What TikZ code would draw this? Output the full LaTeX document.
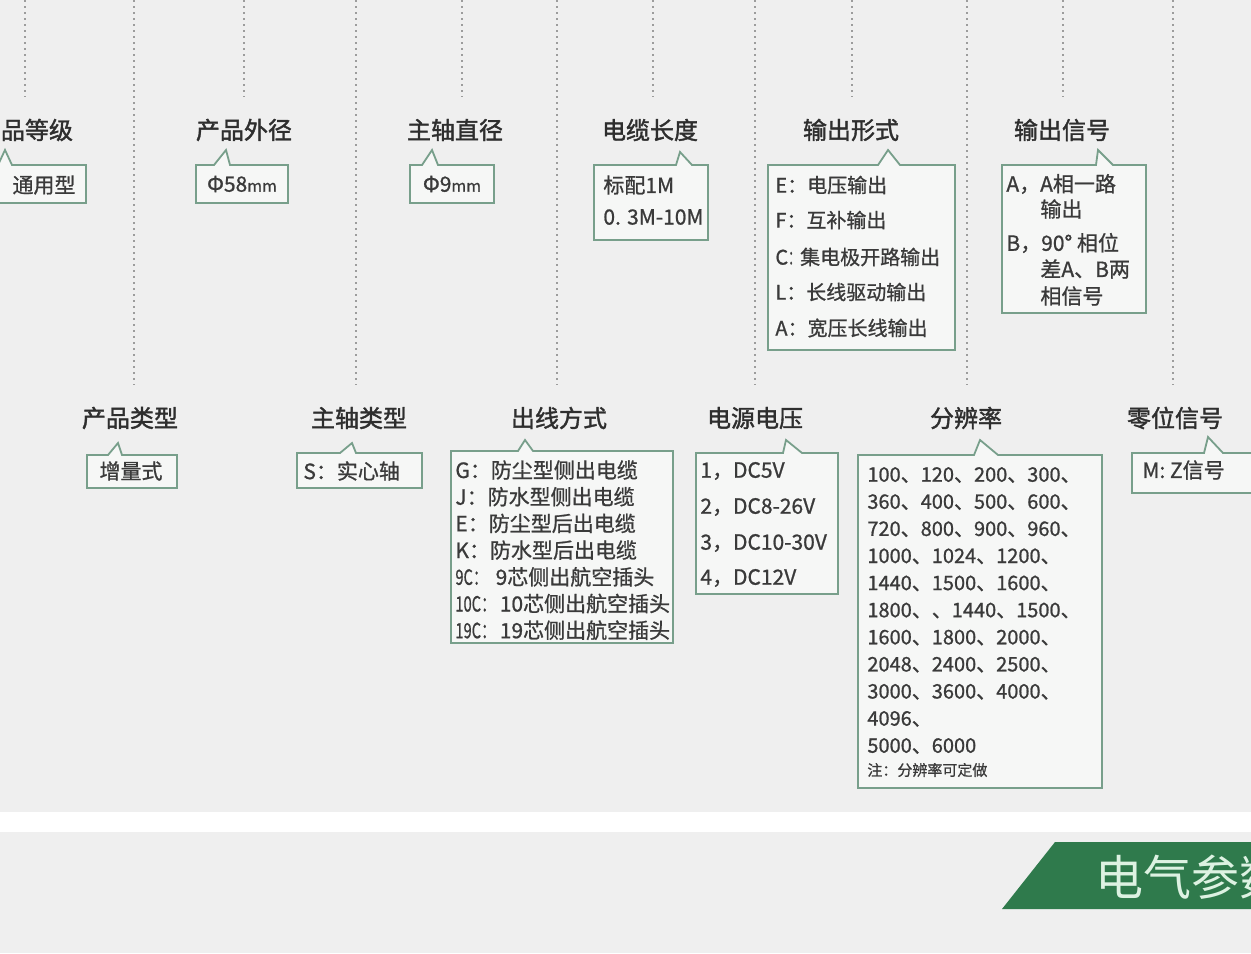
\documentclass[tikz,border=0pt]{standalone}
\usepackage{fontspec}
\setmainfont{Noto Sans CJK SC}
\newfontfamily\tfont[FakeBold=1.6]{Noto Sans CJK SC}
\newfontfamily\bxfont[FakeBold=0.9]{Noto Sans CJK SC}
\usepackage{graphicx}
\definecolor{bgc}{HTML}{EFEFEF}
\definecolor{boxfill}{HTML}{F6F7F6}
\definecolor{boxline}{HTML}{789F8B}
\definecolor{guidec}{HTML}{9C9C9C}
\definecolor{titlec}{HTML}{2E2E2E}
\definecolor{textc}{HTML}{3A3A3A}
\definecolor{bannerc}{HTML}{2F7A4C}
\definecolor{bannertext}{HTML}{DDF2E2}
\newcommand\callout[8]{\filldraw[calloutbox] (#1,#2) -- (#5,#2) -- (#6,#7) -- (#8,#2) -- (#3,#2) -- (#3,#4) -- (#1,#4) -- cycle;}
\begin{document}
\begin{tikzpicture}[x=0.5pt,y=-0.5pt,
  calloutbox/.style={draw=boxline,fill=boxfill,line width=0.9pt,line join=miter},
  guide/.style={draw=guidec,line width=0.9pt,dash pattern=on 1pt off 2pt},
  title/.style={inner sep=0pt,text=titlec,font=\tfont\fontsize{12}{14}\selectfont},
  boxtxt/.style={inner sep=0pt,text=textc,anchor=west,font=\bxfont\fontsize{10.5}{12}\selectfont},
  restxt/.style={inner sep=0pt,text=textc,anchor=west,font=\bxfont\fontsize{10}{12}\selectfont},
  bannertxt/.style={inner sep=0pt,text=bannertext,font=\fontsize{24}{28}\selectfont}]
\useasboundingbox (0,0) rectangle (1251,953);
\clip (0,0) rectangle (1251,953);
\fill[bgc] (0,0) rectangle (1251,953);
\fill[white] (0,812) rectangle (1251,832);
\fill[bannerc] (1002,909) -- (1055,842) -- (1262,842) -- (1262,909) -- cycle;
\node[bannertxt,anchor=west] (banner) at (1095,877) {电气参数};

% guide lines
\foreach \x/\n in {25/a,244/b,462/c,653/d,852/e,1063/f} {
  \coordinate (gs\n0) at (\x,0);
  \coordinate (gs\n1) at (\x,97);
  \draw[guide] (gs\n0) -- (gs\n1);
}
\foreach \x/\n in {134/p,356/q,557/r,755/s,967/t,1173/u} {
  \coordinate (gl\n0) at (\x,0);
  \coordinate (gl\n1) at (\x,385);
  \draw[guide] (gl\n0) -- (gl\n1);
}

% titles
\node[title] (t1) at (25,130) {产品等级};
\node[title] (t2) at (244,130) {产品外径};
\node[title] (t3) at (455,130) {主轴直径};
\node[title] (t4) at (650,130) {电缆长度};
\node[title] (t5) at (851,130) {输出形式};
\node[title] (t6) at (1062,130) {输出信号};
\node[title] (b1) at (130,418) {产品类型};
\node[title] (b2) at (359,418) {主轴类型};
\node[title] (b3) at (559,418) {出线方式};
\node[title] (b4) at (755,418) {电源电压};
\node[title] (b5) at (966,418) {分辨率};
\node[title] (b6) at (1175,418) {零位信号};

% callout boxes
\callout{-6}{165}{86}{203}{-2}{5}{150}{12}
\callout{196}{165}{288}{203}{214}{226}{150}{230}
\callout{410}{165}{494}{203}{422}{432}{150}{438}
\callout{594}{165}{708}{240}{676}{680}{152}{692}
\callout{768}{165}{955}{350}{878}{888}{150}{900}
\callout{1002}{165}{1146}{313}{1096}{1098}{150}{1113}
\callout{87}{455}{177}{488}{108}{118}{443}{122}
\callout{297}{453}{422}{488}{340}{352}{443}{356}
\callout{451}{451}{673}{643}{518}{525}{440}{533}
\callout{696}{453}{838}{594}{783}{786}{440}{802}
\callout{858}{455}{1102}{788}{974}{980}{440}{998}
\callout{1132}{453}{1262}{493}{1204}{1208}{437}{1223}

% box texts
\node[boxtxt,anchor=center] (c1) at (44,185) {通用型};
\node[boxtxt,anchor=center] (c2) at (242,184) {Φ58{\fontsize{8}{9}\selectfont mm}};
\node[boxtxt,anchor=center] (c3) at (452,184) {Φ9{\fontsize{8}{9}\selectfont mm}};
\node[boxtxt] (c4a) at (603,185) {标配1M};
\node[boxtxt] (c4b) at (603,217) {0. 3M-10M};
\foreach \t/\yy [count=\i] in {E：电压输出/185, F：互补输出/220, {C\scalebox{0.6}[1]{：}集电极开路输出}/257, L：长线驱动输出/292, A：宽压长线输出/328}
  \node[boxtxt,font=\bxfont\fontsize{10}{12}\selectfont] (c5\i) at (775,\yy) {\t};
\node[boxtxt] (c6a) at (1006,184) {A，A相一路};
\node[boxtxt] (c6b) at (1040,209) {输出};
\node[boxtxt] (c6c) at (1006,243) {B，90° 相位};
\node[boxtxt] (c6d) at (1040,269) {差A、B两};
\node[boxtxt] (c6e) at (1040,296) {相信号};
\node[boxtxt,anchor=center] (d1) at (131,471) {增量式};
\node[boxtxt] (d2) at (303,471) {S：实心轴};
\foreach \t [count=\i from 0] in {{G：防尘型侧出电缆},{J：防水型侧出电缆},{E：防尘型后出电缆},{K：防水型后出电缆},
  {\scalebox{0.7}[1]{9C：}\hspace{4pt}9芯侧出航空插头},{\scalebox{0.7}[1]{10C：}\hspace{2pt}10芯侧出航空插头},{\scalebox{0.7}[1]{19C：}\hspace{2pt}19芯侧出航空插头}}
  \node[boxtxt] (d3\i) at (455,{470+26.7*\i}) {\t};
\foreach \t/\yy [count=\i] in {1，DC5V/471, 2，DC8-26V/507, 3，DC10-30V/543, 4，DC12V/578}
  \node[boxtxt] (d4\i) at (700,\yy) {\t};
\foreach \t [count=\i from 0] in {{100、120、200、300、},{360、400、500、600、},{720、800、900、960、},{1000、1024、1200、},
  {1440、1500、1600、},{1800、、1440、1500、},{1600、1800、2000、},{2048、2400、2500、},{3000、3600、4000、},{4096、},{5000、6000}}
  \node[restxt] (d5\i) at (867,{475+27.1*\i}) {\t};
\node[restxt,font=\bxfont\fontsize{7.5}{9}\selectfont] (d5n) at (867,770) {注：分辨率可定做};
\node[boxtxt] (d6) at (1142,470) {M: Z信号};
\end{tikzpicture}
\end{document}
